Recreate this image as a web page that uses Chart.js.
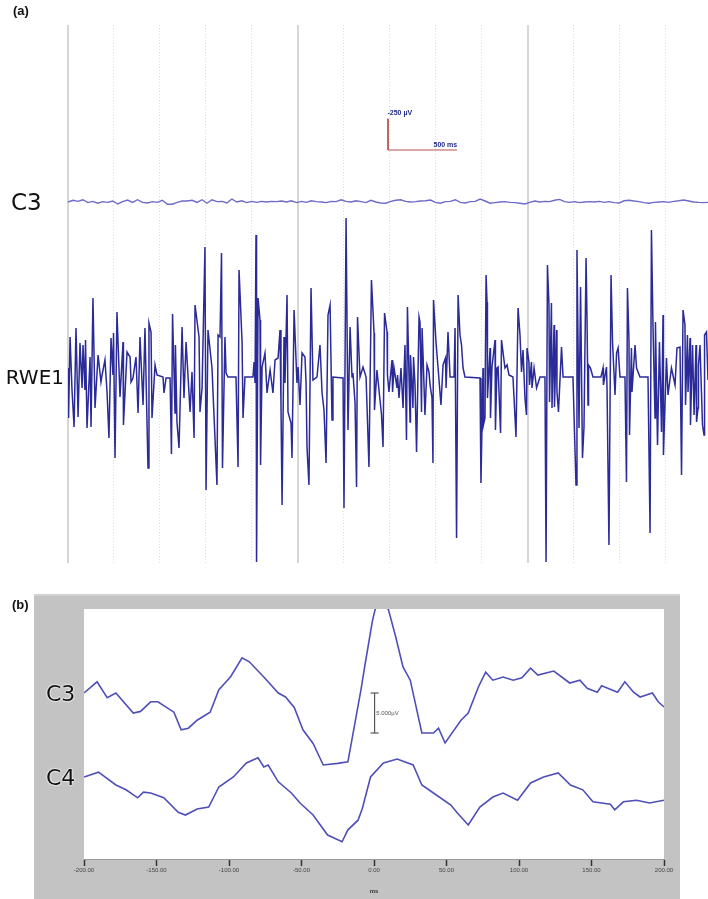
<!DOCTYPE html>
<html>
<head>
<meta charset="utf-8">
<script src="https://cdn.jsdelivr.net/npm/chart.js@4.4.1/dist/chart.umd.min.js"></script>
<style>
body { margin: 0; width: 708px; height: 899px; background: #fff; position: relative; overflow: hidden; }
canvas { position: absolute; }
#rawChart { left: 0; top: 0; }
#avgChart { left: 34px; top: 594px; background: #c3c3c3; }
.lbl { position: absolute; color: #111; font-family: 'DejaVu Sans', sans-serif; line-height: 1; white-space: nowrap; }
.panel { position: absolute; font-family: 'Liberation Sans', Arial, sans-serif; font-weight: bold; font-size: 13px; color: #111; }
.halo { text-shadow: 0 0 2px #fff, 0 0 2px #fff, 0 0 1px #fff; }
</style>
</head>
<body>
<canvas id="rawChart" width="708" height="570"></canvas>
<canvas id="avgChart" width="646" height="305"></canvas>

<div class="panel" style="left:13px;top:3px">(a)</div>
<div class="lbl" style="left:11px;top:191px;font-size:23px">C3</div>
<div class="lbl" style="right:644px;top:367px;font-size:20px">RWE1</div>
<div class="panel" style="left:12px;top:597px">(b)</div>
<div class="lbl halo" style="left:46px;top:683px;font-size:22px">C3</div>
<div class="lbl halo" style="left:46px;top:767px;font-size:22px">C4</div>

<script>
// ---------- panel (a): raw recording (ms, µV) ----------
const c3RawStepMs = 36
const c3RawOffset = 1400
const c3RawVal = [0,14,5,18,-5,5,-10,3,-3,8,-16,3,16,-3,18,-3,-8,3,-3,14,-18,-18,-3,8,8,14,-3,18,-10,18,
    3,5,-8,24,0,10,-5,5,-3,5,0,5,3,8,0,10,-5,5,-3,10,3,0,-5,5,3,18,5,0,10,
    3,-5,14,0,-8,-10,5,14,18,5,0,3,8,10,16,-3,-10,3,5,18,-3,-8,3,5,24,8,-10,-5,0,3,
    -3,-5,-10,-16,-3,8,0,5,3,14,21,3,-3,3,-5,0,3,0,5,-3,3,-5,-8,10,14,8,3,-5,-10,-3,
    0,3,-3,5,10,16,8,0,-3,-5,-3]

const rweTime = [0,4,15,29,44,58,73,87,102,109,123,127,138,160,167,181,196,218,239,247,
    268,283,297,312,326,330,341,355,377,399,402,428,450,457,471,493,508,522,544,558,
    580,587,602,609,631,645,689,696,711,740,750,758,776,779,790,805,827,841,856,885,
    899,914,921,950,957,972,993,1001,1015,1044,1080,1088,1102,1113,1120,1138,1146,1160,1218,1233,
    1240,1262,1269,1283,1341,1349,1356,1363,1367,1378,1392,1396,1407,1428,1443,1465,1486,1501,1523,1537,
    1544,1552,1566,1573,1588,1595,1617,1624,1639,1660,1668,1682,1697,1718,1726,1733,1747,1762,1776,1805,
    1827,1842,1856,1871,1885,1900,1914,1921,1994,2001,2016,2030,2045,2059,2066,2081,2092,2099,2117,2139,
    2161,2182,2200,2219,2222,2240,2273,2284,2295,2313,2316,2327,2349,2353,2364,2385,2389,2400,2414,2429,
    2443,2454,2461,2480,2483,2501,2505,2516,2527,2545,2552,2563,2567,2574,2588,2603,2617,2625,2639,2646,
    2650,2668,2683,2704,2719,2737,2741,2755,2770,2799,2806,2817,2828,2842,2853,2864,2878,2987,2994,3009,
    3012,3023,3031,3038,3041,3060,3063,3074,3096,3099,3110,3118,3136,3143,3168,3183,3197,3226,3248,3263,
    3277,3288,3299,3313,3324,3328,3342,3346,3360,3364,3379,3397,3422,3458,3466,3476,3487,3491,3505,3509,
    3524,3527,3542,3545,3556,3578,3589,3661,3683,3690,3705,3716,3730,3741,3756,3763,3770,3774,3788,3806,
    3864,3879,3882,3904,3908,3922,3937,3948,3966,3977,3988,4002,4038,4049,4056,4067,4071,4085,4089,4111,
    4122,4147,4205,4220,4230,4241,4256,4259,4274,4288,4303,4314,4317,4339,4350,4375,4401,4415,4437,4448,
    4459,4473,4477,4491,4495,4510,4513,4528,4539,4553,4557,4568,4571,4582,4600,4611,4615,4629,4640]
const rweVal = [72,-328,320,-104,-400,392,-320,272,-88,256,-104,296,-408,160,-400,632,-248,176,-40,16,
    136,-120,-488,312,16,352,-648,520,-160,280,-384,200,160,-40,-8,160,-288,320,-224,392,
    -728,432,360,-328,96,16,0,-128,-8,-8,-616,504,-288,256,-360,-568,400,-168,280,-280,
    40,-488,576,320,-280,-88,1040,-904,376,72,-864,336,320,992,-728,320,32,0,0,-720,
    856,280,-328,0,0,120,-48,1136,-1480,632,456,-704,80,192,-128,56,-128,136,152,376,
    -208,-1024,320,-48,656,-280,-368,-648,536,-48,80,-224,192,160,-48,-568,-864,712,-24,0,
    256,-128,-264,-688,496,576,-344,0,-8,-1048,1272,-424,400,0,32,-208,-880,480,0,80,
    0,-720,776,352,-264,56,-304,-560,512,360,16,-120,136,-120,72,-88,16,-168,72,-248,
    256,-504,560,-360,176,-248,160,-64,-600,480,440,-280,392,176,-304,96,40,-64,-168,-688,
    616,280,72,-224,96,152,-88,360,0,0,392,-1288,656,336,256,72,0,-8,-848,72,
    -384,-328,816,600,-168,232,-328,80,296,-424,72,80,-448,296,72,96,16,0,-480,552,
    336,40,216,-168,-304,232,120,-64,120,-88,72,-88,0,0,-1480,896,576,-200,592,-248,
    416,-240,376,-120,-280,240,0,0,-864,1016,-408,720,-648,-400,952,456,-224,96,72,0,
    0,72,-64,80,-88,-1344,816,272,-144,192,232,0,0,-840,712,296,-464,232,-120,256,
    72,0,0,-1248,1176,416,-328,440,-544,280,-440,496,-624,152,-144,72,-64,232,240,-784,
    536,416,-224,336,-120,312,-384,256,-304,256,-360,-248,96,256,-384,-464,336,360,-24]

// calibration bar: 250 µV / 500 ms
const calTime = [2320, 2320, 2820]
const calVal = [2066, 1816, 1816]

// time grid of the recording: a line every 1/3 s, a solid one every 5th
const gridMinorMs = [0,333.3,666.7,1000,1333.3,1666.7,2000,2333.3,2666.7,3000,3333.3,3666.7,4000,4333.3]
const gridMajorMs = [0,1666.7,3333.3]

// ---------- panel (b): averaged response (ms, µV) ----------
const avgC3Offset = 20.75
const avgC4Offset = 10.25
const avgC3Time = [-200,-191,-184,-178,-166,-161,-154,-149,-138,-133,-128,-122,-113,-107,-99,-91,-86,-76,-66,-61,
    -55,-49,-42,-35,-25,-18,-9,-6,-1,1,5,10,15,20,25,33,41,44.5,49,60,65,72,
    77,82,89,96,102,108,113,124,135,142,147,154,157,168,173,179,183.5,192,196,200]
const avgC3Val = [0,1.4,-0.6,0,-2.5,-2.3,-1.1,-1.1,-2.4,-4.6,-4.4,-3.4,-2.4,0.4,2.0,4.4,3.9,2.0,0,-0.5,
    -1.8,-4.6,-6.3,-9.0,-8.8,-8.6,0.4,3.75,9.1,10.6,11.6,10.4,7.0,3.25,1.6,-5.0,-5.0,-4.4,-6.25,-3.4,-2.5,0.75,
    2.6,1.6,2.0,1.6,1.9,3.1,2.25,2.75,1.25,1.6,0.6,0.1,0.9,0.1,1.4,0.1,-0.5,0,-1.1,-1.75]
const avgC4Time = [-200,-190,-178,-171,-163,-159,-154,-145,-135,-130,-122,-114,-107,-97,-88,-80,-76,-73,-66,-57,
    -51,-42,-32,-22,-18,-11,-8,-2.4,6.5,16,27,33,41,53,57.5,65,73,82,89,99,
    108,117,127,135.5,144,151,163,166,172,181,190,200]
const avgC4Val = [0,0.6,-1.0,-1.6,-2.6,-1.9,-2.0,-2.6,-4.4,-4.75,-4.0,-3.75,-1.25,0,1.75,2.4,1.25,1.5,-0.6,-2.0,
    -3.25,-4.75,-7.25,-8.1,-6.6,-5.4,-3.9,0,1.75,2.25,1.5,-1.0,-2.0,-3.5,-4.5,-6.0,-3.75,-2.5,-2.0,-2.9,
    -0.75,0,0.5,-1.0,-1.6,-3.1,-3.4,-4.1,-3.1,-2.9,-3.25,-2.9]

// 5 µV calibration bar
const barTime = [0.4, 0.4]
const barVal = [15.75, 20.75]

const pts = (xs, ys, off) => xs.map((x, i) => ({ x: x, y: ys[i] + (off || 0) }))
const c3RawTime = c3RawVal.map((v, i) => i * c3RawStepMs)

// text drawn at data coordinates
const noteText = {
    id: 'noteText',
    afterDatasetsDraw(chart, args, opts) {
        const { ctx, scales } = chart
        ctx.save()
        opts.items.forEach(it => {
            ctx.font = it.font
            ctx.fillStyle = it.color
            ctx.textAlign = it.align
            ctx.textBaseline = 'middle'
            ctx.fillText(it.text, scales.x.getPixelForValue(it.x), scales.y.getPixelForValue(it.y))
        })
        ctx.restore()
    }
}

const plotBg = {
    id: 'plotBg',
    beforeDraw(chart) {
        const { ctx, chartArea: a } = chart
        ctx.save()
        ctx.fillStyle = '#ffffff'
        ctx.fillRect(a.left, a.top, a.width, a.height)
        ctx.fillStyle = '#d2d2d2'
        ctx.fillRect(0, 0, chart.width, 2)
        ctx.restore()
    }
}

new Chart(document.getElementById('rawChart'), {
    type: 'line',
    data: {
        datasets: [
            { data: pts(c3RawTime, c3RawVal, c3RawOffset), borderColor: '#6b6bc9', borderWidth: 1.4 },
            { data: pts(rweTime, rweVal), borderColor: '#2a2a98', borderWidth: 1.5 },
            { data: pts(calTime, calVal), borderColor: '#b5524f', borderWidth: 1 }
        ]
    },
    options: {
        responsive: false,
        animation: false,
        devicePixelRatio: 1,
        layout: { padding: { left: 68, top: 25, right: 0, bottom: 7 } },
        elements: { point: { radius: 0 }, line: { tension: 0 } },
        plugins: {
            legend: { display: false },
            tooltip: { enabled: false },
            noteText: {
                items: [
                    { text: '-250 µV', x: 2316, y: 2112, align: 'left', font: 'bold 7px "Liberation Sans"', color: '#1f2a85' },
                    { text: '500 ms', x: 2822, y: 1858, align: 'right', font: 'bold 7px "Liberation Sans"', color: '#1f2a85' }
                ]
            }
        },
        scales: {
            x: {
                type: 'linear', min: 0, max: 4640,
                afterFit: s => { s.height = 0 },
                afterBuildTicks: s => { s.ticks = gridMinorMs.map(v => ({ value: v })) },
                ticks: { display: false },
                grid: { color: '#dcdcdc', lineWidth: 1, drawTicks: false },
                border: { display: false, dash: [1, 2] }
            },
            xMajor: {
                type: 'linear', position: 'bottom', min: 0, max: 4640,
                afterFit: s => { s.height = 0 },
                afterBuildTicks: s => { s.ticks = gridMajorMs.map(v => ({ value: v })) },
                ticks: { display: false },
                grid: { color: '#d6d6d6', lineWidth: 2, drawTicks: false },
                border: { display: false }
            },
            y: { display: false, min: -1488, max: 2816 }
        }
    },
    plugins: [noteText]
})

new Chart(document.getElementById('avgChart'), {
    type: 'line',
    data: {
        datasets: [
            { data: pts(avgC3Time, avgC3Val, avgC3Offset), borderColor: '#4f4fb8', borderWidth: 1.6 },
            { data: pts(avgC4Time, avgC4Val, avgC4Offset), borderColor: '#4f4fb8', borderWidth: 1.6 },
            {
                data: pts(barTime, barVal), borderColor: '#555', borderWidth: 1.2,
                pointStyle: 'line', pointRadius: 4, pointBorderColor: '#555', pointBorderWidth: 1.2
            }
        ]
    },
    options: {
        responsive: false,
        animation: false,
        devicePixelRatio: 1,
        layout: { padding: { left: 50, top: 15, right: 16, bottom: 0 } },
        elements: { point: { radius: 0 }, line: { tension: 0 } },
        plugins: {
            legend: { display: false },
            tooltip: { enabled: false },
            noteText: {
                items: [
                    { text: '5.000µV', x: 1.5, y: 18.2, align: 'left', font: '6px "Liberation Sans"', color: '#555' }
                ]
            }
        },
        scales: {
            x: {
                type: 'linear', min: -200, max: 200,
                ticks: {
                    stepSize: 50, padding: 1, maxRotation: 0, color: '#444',
                    font: { size: 6, family: 'Liberation Sans' },
                    callback: v => v.toFixed(2)
                },
                afterFit: s => { s.height = 40 },
                grid: { drawOnChartArea: false, tickLength: 7, tickColor: '#333', tickWidth: 1.5 },
                border: { color: '#999' },
                title: {
                    display: true, text: 'ms', color: '#333',
                    font: { size: 6, weight: 'bold', family: 'Liberation Sans' },
                    padding: { top: 0, bottom: 4 }
                }
            },
            y: { display: false, min: 0, max: 31.25 }
        }
    },
    plugins: [plotBg, noteText]
})
</script>
</body>
</html>
